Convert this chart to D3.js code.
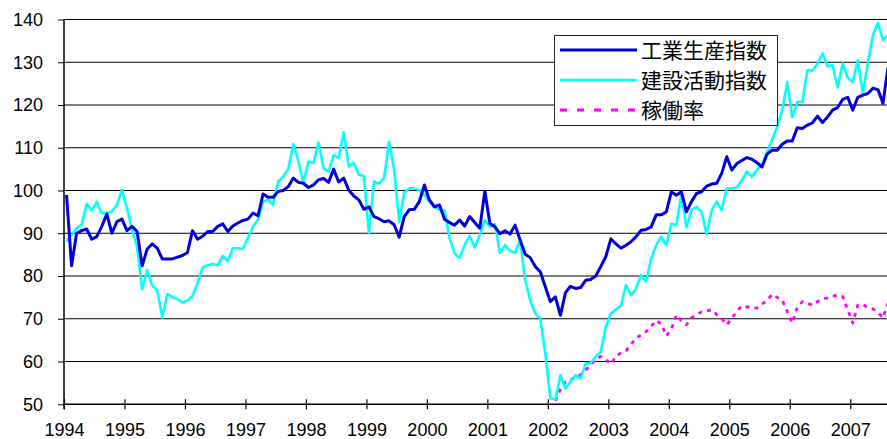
<!DOCTYPE html>
<html lang="ja">
<head>
    <meta charset="UTF-8">
    <title>指数の推移</title>
    <script src="https://cdnjs.cloudflare.com/ajax/libs/d3/7.8.5/d3.min.js"></script>
    <style>
    html, body {
        margin: 0;
        background: white;
    }

    .axis text {
        font-family: "Liberation Sans", Arial, sans-serif;
        font-size: 18px;
        fill: #000;
    }

    .legend text {
        font-family: "Noto Sans CJK JP", sans-serif;
        font-size: 21px;
        fill: #000;
    }
</style>
</head>
<body>
    <div id="chart"></div>
    <script>
    // monthly values, Jan 1994 onwards
    var years = ['1994', '1995', '1996', '1997', '1998', '1999', '2000',
                 '2001', '2002', '2003', '2004', '2005', '2006', '2007'];
    var yTicks = [50, 60, 70, 80, 90, 100, 110, 120, 130, 140];

    var seriesNames = ['工業生産指数', '建設活動指数', '稼働率'];

    var industrial = [
        99.0, 82.4, 90.0, 90.6, 91.0, 88.6, 89.2, 91.6, 94.5, 90.0, 92.7, 93.3,
        90.6, 91.6, 90.4, 82.4, 86.3, 87.5, 86.5, 84.0, 84.0, 84.0, 84.4, 84.8,
        85.5, 90.6, 88.6, 89.3, 90.4, 90.4, 91.6, 92.2, 90.4, 91.7, 92.4, 93.0,
        93.3, 94.7, 94.1, 99.2, 98.4, 98.4, 99.8, 100.0, 100.9, 102.9, 101.9, 101.7,
        100.7, 101.3, 102.5, 102.8, 101.9, 105.0, 102.0, 102.9, 100.1, 98.7, 97.8, 95.6,
        96.2, 93.9, 93.4, 92.7, 92.9, 92.0, 89.1, 93.9, 95.5, 95.6, 97.4, 101.3,
        97.8, 96.2, 96.6, 93.3, 92.5, 91.9, 93.1, 91.7, 93.9, 92.5, 91.2, 99.8,
        92.3, 91.5, 89.9, 90.6, 89.8, 91.9, 88.4, 85.1, 84.3, 82.2, 81.0, 77.5,
        74.0, 75.1, 70.8, 76.1, 77.6, 77.1, 77.3, 79.0, 79.2, 80.0, 82.2, 84.5,
        88.7, 87.5, 86.5, 87.2, 88.0, 89.2, 90.7, 90.9, 91.5, 94.3, 94.3, 95.0,
        99.7, 98.9, 99.7, 95.0, 97.4, 99.3, 99.7, 101.0, 101.5, 101.7, 104.0, 107.9,
        104.8, 106.3, 107.0, 107.7, 107.3, 106.5, 105.5, 108.5, 109.4, 109.4, 110.8, 111.6,
        111.6, 114.7, 114.5, 115.3, 115.8, 117.4, 115.9, 117.2, 118.8, 119.4, 121.3, 121.8,
        118.8, 121.8, 122.3, 122.7, 123.9, 123.6, 120.4, 128.9
    ];

    var construction = [
        88.1, 89.6, 91.2, 92.0, 96.9, 95.3, 97.4, 94.7, 94.7, 95.1, 96.6, 100.1,
        95.9, 90.8, 86.9, 76.9, 81.4, 77.7, 76.8, 70.2, 75.8, 75.1, 74.6, 73.8,
        74.3, 75.4, 78.3, 82.0, 82.5, 82.8, 82.5, 84.7, 83.4, 86.5, 86.5, 86.3,
        88.9, 91.6, 93.1, 97.4, 97.8, 96.6, 102.1, 103.3, 105.0, 110.9, 106.8, 101.9,
        106.8, 106.4, 111.2, 105.2, 104.4, 108.3, 107.6, 113.6, 105.6, 106.4, 103.7, 103.4,
        90.0, 102.1, 101.6, 102.8, 111.4, 104.8, 92.7, 99.4, 100.5, 100.5, 100.1, 99.0,
        97.4, 96.1, 95.5, 95.3, 88.9, 85.3, 84.2, 87.3, 89.4, 86.7, 89.6, 93.1,
        91.5, 92.1, 85.4, 87.2, 85.9, 85.4, 88.5, 79.0, 74.4, 71.2, 70.1, 61.9,
        51.4, 51.1, 56.8, 53.7, 55.3, 56.8, 56.0, 59.5, 59.7, 61.1, 62.3, 68.1,
        71.2, 72.2, 73.0, 77.9, 75.5, 77.1, 80.2, 78.7, 84.1, 87.2, 89.2, 87.2,
        92.2, 91.9, 99.3, 91.4, 95.4, 96.2, 95.0, 89.8, 95.4, 97.4, 95.4, 100.5,
        100.5, 100.7, 102.4, 104.4, 103.2, 104.8, 106.1, 109.0, 111.8, 114.9, 118.8, 125.4,
        117.1, 120.7, 120.7, 128.2, 128.0, 129.7, 132.0, 129.1, 129.3, 124.1, 129.7, 126.4,
        125.4, 130.5, 122.7, 129.9, 136.3, 139.2, 135.2, 136.3
    ];

    // 稼働率 starts Feb 2002 (month 97)
    var utilStart = 97;
    var utilization = [
        50.8, 53.5, 55.2, 55.7, 56.3, 56.9, 58.0, 59.2, 60.5, 61.2, 60.5,
        59.4, 61.2, 62.0, 62.5, 64.0, 65.5, 66.2, 67.0, 68.2, 69.6, 68.8, 66.0,
        67.5, 70.9, 69.5, 68.6, 70.2, 71.0, 71.6, 71.8, 72.1, 71.0, 70.0, 68.6,
        70.0, 71.8, 73.0, 72.8, 72.6, 72.5, 73.4, 74.3, 75.7, 75.0, 74.4, 71.7,
        69.0, 72.7, 74.0, 73.6, 73.2, 74.0, 74.6, 74.9, 75.3, 75.5, 75.2, 72.1,
        69.0, 73.2, 73.3, 72.6, 72.3, 71.5, 70.2, 73.7
    ];

    var width = 887;
    var height = 439;

    var svg = d3.select('#chart')
        .append('svg')
            .attr('width', width)
            .attr('height', height);

    var x = d3.scaleLinear()
        .domain([0, 168])
        .range([64, 64 + 168 * 5.04]);

    var y = d3.scaleLinear()
        .domain([50, 140])
        .range([404.25, 19.5]);

    // gridlines
    svg.append('g')
        .selectAll('line')
        .data(yTicks.filter(function(d){ return d > 50; }))
        .enter()
        .append('line')
            .attr('x1', 64)
            .attr('x2', width)
            .attr('y1', function(d){ return y(d); })
            .attr('y2', function(d){ return y(d); })
            .attr('stroke', '#000')
            .attr('stroke-width', 1);

    var yAxis = d3.axisLeft(y)
        .tickValues(yTicks)
        .tickSize(6)
        .tickPadding(15);

    var gy = svg.append('g')
        .attr('class', 'axis')
        .attr('transform', 'translate(64,0)')
        .call(yAxis);
    gy.select('.domain').remove();
    gy.selectAll('.tick line').attr('stroke', '#000');
    gy.append('line')
        .attr('x1', 0).attr('x2', 0)
        .attr('y1', y(140)).attr('y2', y(50) + 5)
        .attr('stroke', '#000')
        .attr('stroke-width', 1.5);

    var xAxis = d3.axisBottom(x)
        .tickValues(years.map(function(d, i){ return i * 12; }))
        .tickFormat(function(d){ return years[d / 12]; })
        .tickSize(5)
        .tickPadding(13.5);

    var gx = svg.append('g')
        .attr('class', 'axis')
        .attr('transform', 'translate(0,' + y(50) + ')')
        .call(xAxis);
    gx.select('.domain').remove();
    gx.selectAll('.tick line')
        .attr('y1', -5)
        .attr('y2', 5)
        .attr('stroke', '#000')
        .attr('stroke-width', 1.2);
    gx.append('line')
        .attr('x1', 64).attr('x2', width)
        .attr('y1', 0).attr('y2', 0)
        .attr('stroke', '#000')
        .attr('stroke-width', 1.5);

    var line = d3.line()
        .x(function(d){ return x(d.m + 0.5); })
        .y(function(d){ return y(d.v); });

    function toPoints(arr, start){
        return arr.map(function(v, i){ return {m: start + i, v: v}; });
    }

    var series = [
        {name: seriesNames[0], data: toPoints(industrial, 0), color: '#0000dd', width: 3, dash: null},
        {name: seriesNames[1], data: toPoints(construction, 0), color: '#00ffff', width: 2.6, dash: null},
        {name: seriesNames[2], data: toPoints(utilization, utilStart), color: '#ff00ff', width: 2.8, dash: '4,5'}
    ];

    svg.append('g')
        .selectAll('path')
        .data(series.slice().reverse())
        .enter()
        .append('path')
            .attr('fill', 'none')
            .attr('stroke', function(d){ return d.color; })
            .attr('stroke-width', function(d){ return d.width; })
            .attr('stroke-dasharray', function(d){ return d.dash; })
            .attr('stroke-linejoin', 'round')
            .attr('d', function(d){ return line(d.data); });

    // legend
    var legend = svg.append('g')
        .attr('class', 'legend');

    legend.append('rect')
        .attr('x', 554.5)
        .attr('y', 35.5)
        .attr('width', 223)
        .attr('height', 90)
        .attr('fill', 'white')
        .attr('stroke', '#222')
        .attr('stroke-width', 1);

    var rows = legend.selectAll('.row')
        .data(series)
        .enter()
        .append('g')
            .attr('class', 'row')
            .attr('transform', function(d, i){ return 'translate(0,' + (50 + i * 30) + ')'; });

    rows.append('line')
        .attr('x1', 560)
        .attr('x2', 637)
        .attr('stroke', function(d){ return d.color; })
        .attr('stroke-width', function(d){ return d.width; })
        .attr('stroke-dasharray', function(d){ return d.dash ? '7,10' : null; });

    rows.append('text')
        .attr('x', 641)
        .attr('dy', '0.36em')
        .text(function(d){ return d.name; });
    </script>
</body>
</html>
